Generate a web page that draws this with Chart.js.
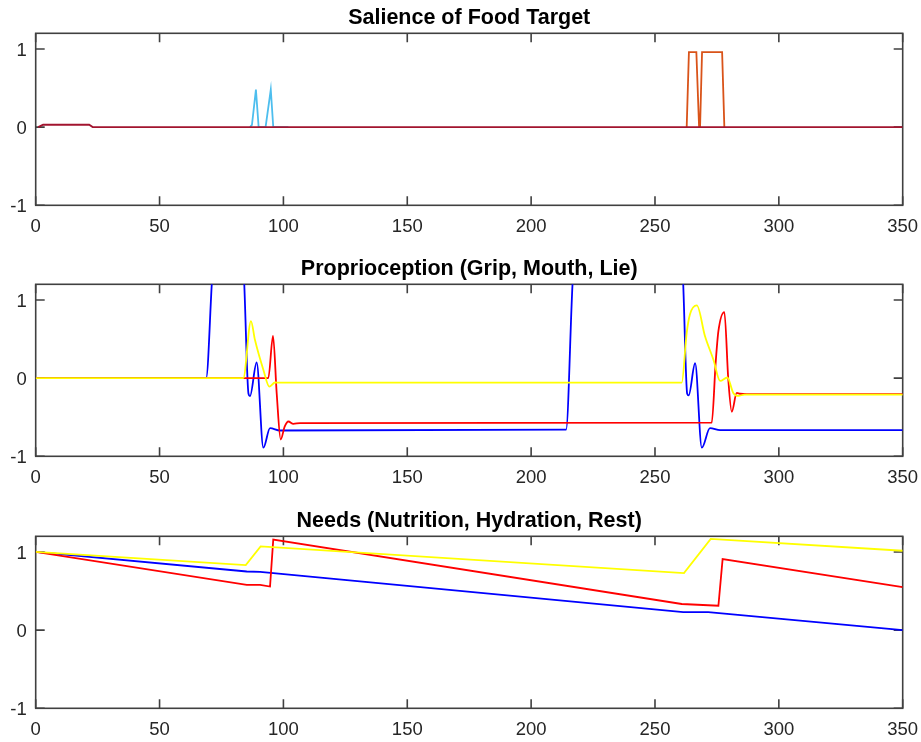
<!DOCTYPE html>
<html>
<head>
<meta charset="utf-8">
<script src="https://cdn.jsdelivr.net/npm/chart.js@4.4.0/dist/chart.umd.min.js"></script>
<style>
  body { margin: 0; background: #fff; width: 921px; height: 742px; overflow: hidden; position: relative; }
  canvas { position: absolute; left: 0; }
</style>
</head>
<body>
<canvas id="c1" width="921" height="240" style="top:0px"></canvas>
<canvas id="c2" width="921" height="240" style="top:251px"></canvas>
<canvas id="c3" width="921" height="240" style="top:503px"></canvas>
<script>
// tick labels shared by the three panels
var xTicks = [0, 50, 100, 150, 200, 250, 300, 350];
var yTicks = [-1, 0, 1];

// panel 1: salience of food target
var salMaroonX = [1, 3, 21.6, 23, 350];
var salMaroonY = [0, 0.03, 0.03, 0, 0];
var salCyanX = [86.5, 87.3, 88.9, 90.0, 92.8, 94.9, 95.9, 102];
var salCyanY = [0, 0.03, 0.48, 0, 0, 0.48, 0, 0];
var salOrangeX = [262.8, 263.7, 266.7, 267.8, 268.2, 269.0, 277.1, 278.0];
var salOrangeY = [0, 0.96, 0.96, 0, 0, 0.96, 0.96, 0];

// panel 2: proprioception (grip, mouth, lie)
var gripX = [0, 68.8, 71.5, 73, 83.6, 84.2, 85.9, 86.5, 89.2, 91.9, 94.6, 98.6, 214.1, 216.8, 218, 260.8, 261.4, 263.0, 263.6, 266.2, 268.9, 272.2, 276.3, 350];
var gripY = [0, 0, 1.4, 1.6, 1.6, 1.2, -0.2, -0.23, 0.2, -0.89, -0.64, -0.67, -0.66, 1.25, 1.6, 1.6, 1.2, -0.2, -0.22, 0.19, -0.89, -0.64, -0.665, -0.665];
var mouthX = [0, 93.9, 95.8, 97.3, 98.9, 100.5, 102, 104, 106.7, 272.9, 274.5, 275.6, 278, 279.6, 281, 283, 284.3, 287, 350];
var mouthY = [0, 0, 0.54, -0.2, -0.785, -0.62, -0.555, -0.585, -0.575, -0.57, 0.2, 0.6, 0.845, -0.02, -0.43, -0.19, -0.2, -0.206, -0.206];
var lieX = [0, 83.8, 86.9, 88.5, 91.9, 94.3, 96.6, 98.6, 260.8, 262.8, 264.1, 266.9, 270.2, 273.6, 276.3, 279.2, 281.6, 283.7, 286, 350];
var lieY = [0, 0, 0.73, 0.49, 0.107, -0.108, -0.056, -0.057, -0.057, 0.58, 0.815, 0.93, 0.535, 0.235, -0.035, 0.008, -0.19, -0.228, -0.21, -0.21];

// panel 3: needs (nutrition, hydration, rest)
var nutritionX = [0, 85.2, 90.6, 261.4, 271.5, 350];
var nutritionY = [1, 0.75, 0.745, 0.231, 0.231, 0];
var hydrationX = [0, 85.2, 90.6, 94.6, 95.9, 260.8, 275.6, 277.3, 350];
var hydrationY = [1, 0.578, 0.578, 0.557, 1.157, 0.334, 0.312, 0.909, 0.549];
var restX = [0, 84.8, 90.8, 261.7, 272.5, 350];
var restY = [1, 0.831, 1.071, 0.729, 1.166, 1.015];

var FONT = "'Liberation Sans', Arial, Helvetica, sans-serif";

// zip two arrays into {x, y} points
function pts(xs, ys) {
    var out = [];
    for (var i = 0; i < xs.length; i++) {
        out.push({ x: xs[i], y: ys[i] });
    }
    return out;
}

function line(xs, ys, color, smooth) {
    return {
        data: pts(xs, ys),
        borderColor: color,
        borderWidth: 1.8,
        pointRadius: 0,
        fill: false,
        cubicInterpolationMode: smooth ? 'monotone' : 'default'
    };
}

// matlab style box with inward ticks, under the lines
var boxPlugin = {
    id: 'matlabBox',
    beforeDatasetsDraw: function(chart) {
        var a = chart.chartArea;
        var c = chart.ctx;
        var xs = chart.scales.x, ys = chart.scales.y;
        var len = 9;
        c.save();
        c.strokeStyle = '#404040';
        c.lineWidth = 1.6;
        c.strokeRect(a.left, a.top, a.right - a.left, a.bottom - a.top);
        c.beginPath();
        xTicks.forEach(function(v) {
            var px = xs.getPixelForValue(v);
            c.moveTo(px, a.top); c.lineTo(px, a.top + len);
            c.moveTo(px, a.bottom); c.lineTo(px, a.bottom - len);
        });
        yTicks.forEach(function(v) {
            var py = ys.getPixelForValue(v);
            c.moveTo(a.left, py); c.lineTo(a.left + len, py);
            c.moveTo(a.right, py); c.lineTo(a.right - len, py);
        });
        c.stroke();
        c.restore();
    }
};

function makeChart(id, title, datasets) {
    var ctx = document.getElementById(id).getContext('2d');
    return new Chart(ctx, {
        type: 'line',
        data: { datasets: datasets },
        options: {
            responsive: false,
            animation: false,
            layout: { padding: { left: 0, right: 18.3, top: 0, bottom: 0 } },
            plugins: {
                legend: { display: false },
                tooltip: { enabled: false },
                title: {
                    display: true,
                    text: title,
                    fullSize: false,
                    color: '#000',
                    font: { family: FONT, size: 21.5, weight: 'bold' },
                    padding: { top: 5.6, bottom: 1.9 }
                }
            },
            scales: {
                x: {
                    type: 'linear',
                    min: 0,
                    max: 350,
                    grid: { display: false, drawTicks: false },
                    border: { display: false },
                    ticks: { color: '#262626', font: { family: FONT, size: 18.5 }, padding: 11, autoSkip: false, maxRotation: 0 },
                    afterBuildTicks: function(s) { s.ticks = xTicks.map(function(v) { return { value: v }; }); },
                    afterFit: function(s) { s.height = 34.7; s.paddingLeft = 0; s.paddingRight = 0; }
                },
                y: {
                    type: 'linear',
                    min: -1,
                    max: 1.2,
                    grid: { display: false, drawTicks: false },
                    border: { display: false },
                    ticks: { color: '#262626', font: { family: FONT, size: 18.5 }, padding: 9, labelOffset: 2 },
                    afterBuildTicks: function(s) { s.ticks = yTicks.map(function(v) { return { value: v }; }); },
                    afterFit: function(s) { s.width = 35.7; s.paddingTop = 0; s.paddingBottom = 0; }
                }
            }
        },
        plugins: [boxPlugin]
    });
}

// first dataset is drawn on top in Chart.js, so list top-most first
makeChart('c1', 'Salience of Food Target', [
    line(salMaroonX, salMaroonY, '#A2142F'),
    line(salCyanX, salCyanY, '#4DBEEE'),
    line(salOrangeX, salOrangeY, '#D95319')
]);

makeChart('c2', 'Proprioception (Grip, Mouth, Lie)', [
    line(lieX, lieY, '#FFFF00', true),
    line(mouthX, mouthY, '#FF0000', true),
    line(gripX, gripY, '#0000FF', true)
]);

makeChart('c3', 'Needs (Nutrition, Hydration, Rest)', [
    line(restX, restY, '#FFFF00'),
    line(hydrationX, hydrationY, '#FF0000'),
    line(nutritionX, nutritionY, '#0000FF')
]);
</script>
</body>
</html>
